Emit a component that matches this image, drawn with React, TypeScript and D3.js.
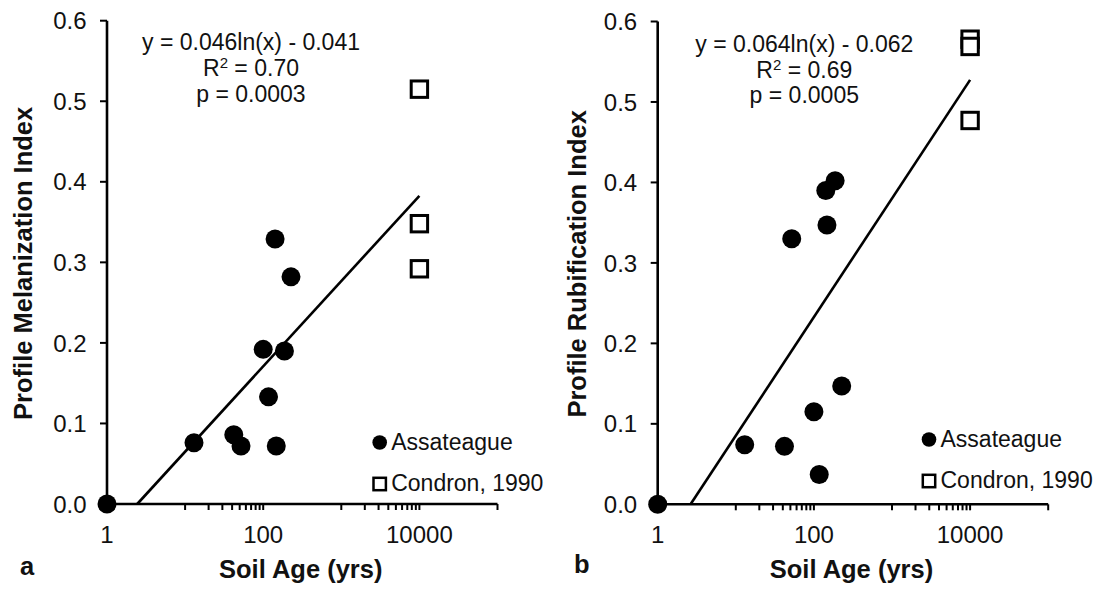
import React from "react";
import * as d3 from "d3";

// Soil ages (yrs) of the Assateague profiles, shared by both panels
const ages = [1, 13, 42, 52, 100, 117, 142, 147, 187, 227];
const melanization = [0, 0.076, 0.086, 0.072, 0.192, 0.133, 0.329, 0.072, 0.19, 0.282];
const rubification = [0, 0.074, 0.072, 0.33, 0.115, 0.037, 0.39, 0.347, 0.402, 0.147];

// Condron (1990) reference profiles
const condronAges = [10000, 10000, 10000];
const condronMelanization = [0.515, 0.348, 0.292];
const condronRubification = [0.578, 0.569, 0.477];

// Logarithmic fits y = a ln(x) + b
const melFit = { a: 0.046, b: -0.041, r2: "0.70", p: "0.0003" };
const rubFit = { a: 0.064, b: -0.062, r2: "0.69", p: "0.0005" };

const xTickValues = [1, 100, 10000];
const xTickLabels = ["1", "100", "10000"];
const yTickValues = [0, 0.1, 0.2, 0.3, 0.4, 0.5, 0.6];
const legendLabels = ["Assateague", "Condron, 1990"];

const FONT = "'Liberation Sans', Arial, Helvetica, sans-serif";

type PanelProps = {
  letter: string;
  yTitle: string;
  values: number[];
  condron: number[];
  fit: { a: number; b: number; r2: string; p: string };
  x0: number;
  y0: number;
  yTop: number;
  eqX: number;
  eqY: number;
  yTitleX: number;
  letterX: number;
  letterY: number;
  legendX: number;
  legendY: number;
};

function minorTicks(): number[] {
  const out: number[] = [];
  for (const base of [1, 100, 10000]) {
    for (let m = 10; m <= 90; m += 10) {
      const v = base * m;
      if (v <= 100000) out.push(v);
    }
  }
  return out;
}

function Panel(p: PanelProps) {
  const decade = 78.1;
  const x = d3.scaleLog().domain([1, 100000]).range([p.x0, p.x0 + decade * 5]);
  const y = d3.scaleLinear().domain([0, 0.6]).range([p.y0, p.yTop]);

  const xStart = Math.exp(-p.fit.b / p.fit.a);
  const xEnd = 10000;
  const fitLine = d3
    .line<number>()
    .x((d) => x(d))
    .y((d) => y(p.fit.a * Math.log(d) + p.fit.b))([xStart, xEnd]);

  const [xMin, xMax] = x.range();
  const ticks = [...xTickValues, ...minorTicks()];

  return (
    <g>
      {/* axes */}
      <line x1={xMin} x2={xMax} y1={p.y0} y2={p.y0} stroke="#000" strokeWidth={2.6} />
      <line x1={p.x0} x2={p.x0} y1={p.y0} y2={p.yTop} stroke="#000" strokeWidth={2.6} />
      {ticks.map((t, i) => (
        <line key={"xt" + i} x1={x(t)} x2={x(t)} y1={p.y0} y2={p.y0 + 6} stroke="#000" strokeWidth={2} />
      ))}
      {yTickValues.map((t, i) => (
        <g key={"yt" + i}>
          <line x1={p.x0 - 7} x2={p.x0} y1={y(t)} y2={y(t)} stroke="#000" strokeWidth={2} />
          <text
            x={p.x0 - 20.5}
            y={y(t) + 8.6}
            textAnchor="end"
            fontSize={24}
            fontFamily={FONT}
            fill="#111"
          >
            {d3.format(".1f")(t)}
          </text>
        </g>
      ))}
      {xTickValues.map((t, i) => (
        <text
          key={"xl" + i}
          x={x(t)}
          y={p.y0 + 39}
          textAnchor="middle"
          fontSize={24}
          fontFamily={FONT}
          fill="#111"
        >
          {xTickLabels[i]}
        </text>
      ))}

      {/* regression line */}
      <path d={fitLine ?? ""} fill="none" stroke="#000" strokeWidth={2.6} />

      {/* Assateague profiles */}
      {ages.map((a, i) => (
        <circle key={"c" + i} cx={x(a)} cy={y(p.values[i])} r={9.5} fill="#000" />
      ))}

      {/* Condron profiles */}
      {condronAges.map((a, i) => (
        <rect
          key={"s" + i}
          x={x(a) - 8.2}
          y={y(p.condron[i]) - 8.2}
          width={16.4}
          height={16.4}
          fill="#fff"
          stroke="#000"
          strokeWidth={3}
        />
      ))}

      {/* equation block */}
      <g fontFamily={FONT} fontSize={23} fill="#111" textAnchor="middle">
        <text x={p.eqX} y={p.eqY}>
          {`y = ${p.fit.a.toFixed(3)}ln(x) - ${Math.abs(p.fit.b).toFixed(3)}`}
        </text>
        <text x={p.eqX} y={p.eqY + 26}>
          R<tspan fontSize={15} dy={-8}>2</tspan>
          <tspan dy={8}>{` = ${p.fit.r2}`}</tspan>
        </text>
        <text x={p.eqX} y={p.eqY + 51.7}>
          {`p = ${p.fit.p}`}
        </text>
      </g>

      {/* legend */}
      <circle cx={p.legendX} cy={p.legendY} r={7.3} fill="#000" />
      <text x={p.legendX + 11.5} y={p.legendY + 7.8} fontSize={23} fontFamily={FONT} fill="#111">
        {legendLabels[0]}
      </text>
      <rect
        x={p.legendX - 6.2}
        y={p.legendY + 41.5 - 6.2}
        width={12.4}
        height={12.4}
        fill="#fff"
        stroke="#000"
        strokeWidth={2.5}
      />
      <text x={p.legendX + 11.5} y={p.legendY + 48.5} fontSize={23} fontFamily={FONT} fill="#111">
        {legendLabels[1]}
      </text>

      {/* axis titles */}
      <text
        transform={`translate(${p.yTitleX},${(p.y0 + p.yTop) / 2 + 1}) rotate(-90)`}
        textAnchor="middle"
        fontSize={25.5}
        fontWeight="bold"
        fontFamily={FONT}
        fill="#111"
      >
        {p.yTitle}
      </text>
      <text
        x={(xMin + xMax) / 2 - 1.5}
        y={578}
        textAnchor="middle"
        fontSize={25.5}
        fontWeight="bold"
        fontFamily={FONT}
        fill="#111"
      >
        Soil Age (yrs)
      </text>
      <text x={p.letterX} y={p.letterY} fontSize={25.5} fontWeight="bold" fontFamily={FONT} fill="#111">
        {p.letter}
      </text>
    </g>
  );
}

export default function App() {
  return (
    <svg
      width={1102}
      height={590}
      viewBox="0 0 1102 590"
      style={{ position: "absolute", left: 0, top: 0, background: "#fff" }}
    >
      <rect x={0} y={0} width={1102} height={590} fill="#fff" />
      <Panel
        letter="a"
        yTitle="Profile Melanization Index"
        values={melanization}
        condron={condronMelanization}
        fit={melFit}
        x0={107}
        y0={504}
        yTop={20.7}
        eqX={251}
        eqY={50}
        yTitleX={32}
        letterX={20}
        letterY={575}
        legendX={379.7}
        legendY={442.5}
      />
      <Panel
        letter="b"
        yTitle="Profile Rubification Index"
        values={rubification}
        condron={condronRubification}
        fit={rubFit}
        x0={657.7}
        y0={504.3}
        yTop={21.5}
        eqX={804.3}
        eqY={51.7}
        yTitleX={585.5}
        letterX={574}
        letterY={573}
        legendX={929}
        legendY={439.5}
      />
    </svg>
  );
}
